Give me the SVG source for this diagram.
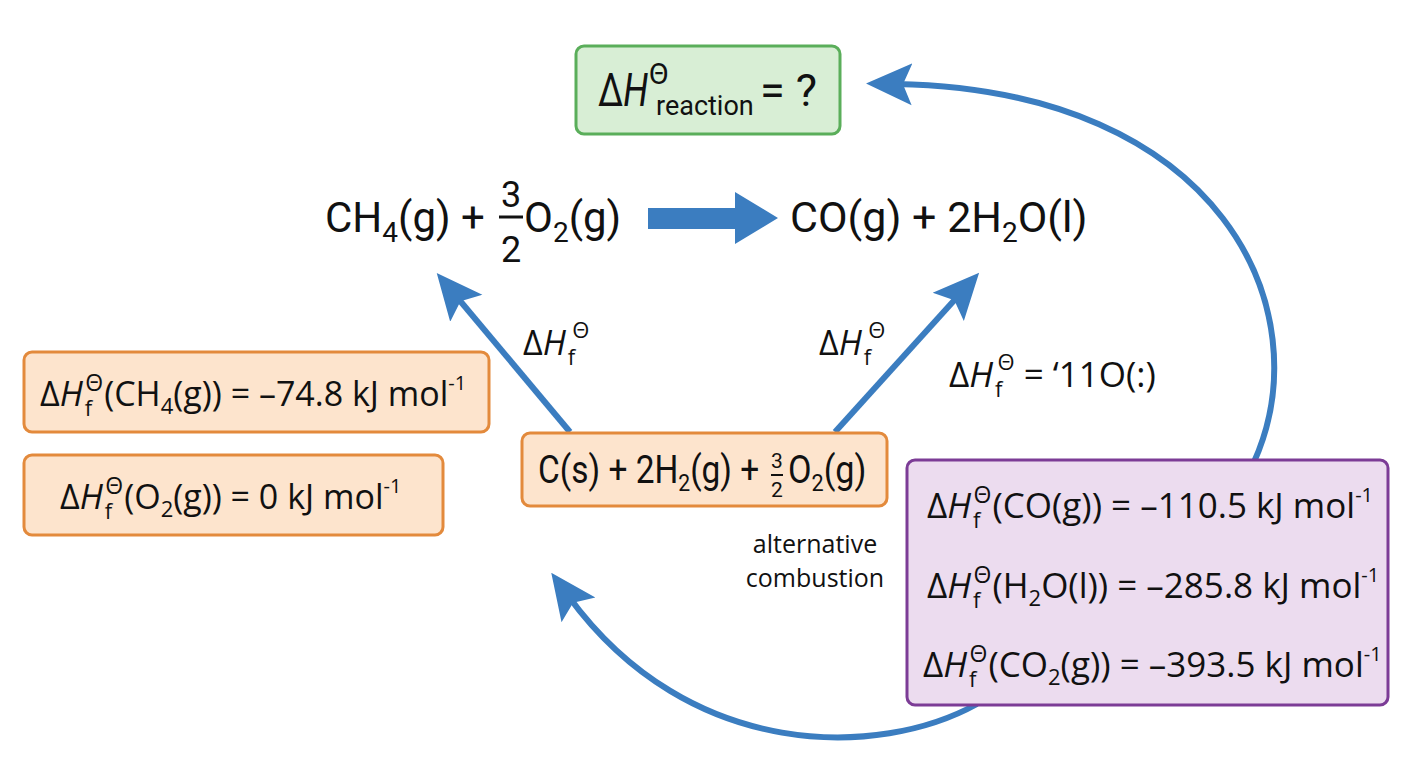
<svg xmlns="http://www.w3.org/2000/svg" width="1408" height="768" viewBox="0 0 1408 768">
<defs>
<style>
.eq{font-family:Roboto,"Liberation Sans",sans-serif;fill:#111;}
.os{font-family:"Open Sans","Liberation Sans",sans-serif;fill:#111;}
.it{font-style:italic;}
.orange{fill:#fde4cd;stroke:#e38a3c;stroke-width:3;}
.purple{fill:#ecdcef;stroke:#7c3c96;stroke-width:3;}
.green{fill:#d8eed5;stroke:#5aae5a;stroke-width:3;}
.conn{fill:none;stroke:#3b7dc0;stroke-width:6;}
</style>
<marker id="ah" markerUnits="userSpaceOnUse" viewBox="0 0 46 46" refX="16" refY="23" markerWidth="46" markerHeight="46" orient="auto">
<path d="M0,2 L46,23 L0,44 L9,23 Z" fill="#3b7dc0"/>
</marker>
</defs>
<rect width="1408" height="768" fill="#ffffff"/>

<g id="connectors">
<polygon points="648,208 735,208 735,192 778,218 735,244 735,229 648,229" fill="#3b7dc0"/>
<path class="conn" d="M570,432 L456,296" marker-end="url(#ah)"/>
<path class="conn" d="M835,432 L959,295" marker-end="url(#ah)"/>
<path class="conn" d="M1254,462 C1322,310 1222,90 896,84" marker-end="url(#ah)"/>
<path class="conn" d="M977,704 C880,758 690,762 569,597" marker-end="url(#ah)"/>
</g>

<g id="reaction-enthalpy">
<rect class="green" x="576" y="46" width="264" height="88" rx="8"/>
<text class="eq" font-size="46" transform="translate(598,106) scale(0.78,1)">Δ<tspan class="it">H</tspan></text>
<text class="eq" font-size="29" x="649" y="84">Θ</text>
<text class="eq" font-size="27" x="656" y="115">reaction</text>
<text class="eq" font-size="45" x="760" y="106">= ?</text>
</g>

<g id="reactants">
<text class="eq" font-size="42" x="325" y="232">CH<tspan font-size="28" dy="10">4</tspan><tspan dy="-10">(g) +</tspan></text>
<text class="eq" font-size="36" text-anchor="middle"><tspan x="511" y="207">3</tspan><tspan x="511" y="262">2</tspan></text>
<line x1="499" y1="217" x2="523" y2="217" stroke="#111" stroke-width="3"/>
<text class="eq" font-size="42" x="524" y="232">O<tspan font-size="28" dy="10">2</tspan><tspan dy="-10">(g)</tspan></text>
</g>

<g id="products">
<text class="eq" font-size="43" x="790" y="232">CO(g) + 2H<tspan font-size="28" dy="10">2</tspan><tspan dy="-10">O(l)</tspan></text>
</g>

<g id="elements">
<rect class="orange" x="522" y="433" width="365" height="73" rx="8"/>
<text class="eq" font-size="38" transform="translate(538,483) scale(0.88,1)">C(s) + 2H<tspan font-size="24" dy="8">2</tspan><tspan dy="-8">(g) +</tspan></text>
<text class="eq" font-size="21" text-anchor="middle"><tspan x="777" y="468">3</tspan><tspan x="777" y="497">2</tspan></text>
<line x1="771" y1="475" x2="783" y2="475" stroke="#111" stroke-width="2"/>
<text class="eq" font-size="38" transform="translate(788,483) scale(0.9,1)">O<tspan font-size="24" dy="8">2</tspan><tspan dy="-8">(g)</tspan></text>
</g>

<g id="label-left">
<text class="os" font-size="34" x="523" y="355">Δ<tspan class="it">H</tspan><tspan font-size="22" dx="2" dy="10">f</tspan><tspan font-size="22" dx="-3" dy="-27">Θ</tspan></text>
</g>

<g id="label-right">
<text class="os" font-size="34" x="819" y="355">Δ<tspan class="it">H</tspan><tspan font-size="22" dx="2" dy="10">f</tspan><tspan font-size="22" dx="-3" dy="-27">Θ</tspan></text>
</g>

<g id="label-co">
<text class="os" font-size="35" x="949" y="387">Δ<tspan class="it">H</tspan><tspan font-size="22" dx="2" dy="10">f</tspan><tspan font-size="22" dx="-5" dy="-27">Θ</tspan><tspan dy="17"> = ‘11O(:)</tspan></text>
</g>

<g id="label-alt">
<text class="os" font-size="25" text-anchor="middle" x="815" y="553">alternative</text>
<text class="os" font-size="25" text-anchor="middle" x="815" y="587">combustion</text>
</g>

<g id="ch4-formation">
<rect class="orange" x="24" y="352" width="465" height="80" rx="8"/>
<text class="os" font-size="34" x="40" y="406">Δ<tspan class="it">H</tspan><tspan font-size="22" dx="2" dy="10">f</tspan><tspan font-size="23" dx="-7" dy="-25">Θ</tspan><tspan dx="1" dy="15">(CH</tspan><tspan font-size="22" dy="8">4</tspan><tspan dy="-8">(g)) = –74.8 kJ mol</tspan><tspan font-size="20" dy="-16">-1</tspan></text>
</g>

<g id="o2-formation">
<rect class="orange" x="24" y="455" width="419" height="80" rx="8"/>
<text class="os" font-size="34" x="60" y="509">Δ<tspan class="it">H</tspan><tspan font-size="22" dx="2" dy="10">f</tspan><tspan font-size="23" dx="-7" dy="-25">Θ</tspan><tspan dx="1" dy="15">(O</tspan><tspan font-size="22" dy="8">2</tspan><tspan dy="-8">(g)) = 0 kJ mol</tspan><tspan font-size="20" dy="-16">-1</tspan></text>
</g>

<g id="product-data">
<rect class="purple" x="907" y="460" width="481" height="245" rx="8"/>
<text class="os" font-size="35" x="927" y="518">Δ<tspan class="it">H</tspan><tspan font-size="22" dx="2" dy="10">f</tspan><tspan font-size="23" dx="-7" dy="-25">Θ</tspan><tspan dx="1" dy="15">(CO(g)) = –110.5 kJ mol</tspan><tspan font-size="20" dy="-16">-1</tspan></text>
<text class="os" font-size="35" x="927" y="598">Δ<tspan class="it">H</tspan><tspan font-size="22" dx="2" dy="10">f</tspan><tspan font-size="23" dx="-7" dy="-25">Θ</tspan><tspan dx="1" dy="15">(H</tspan><tspan font-size="22" dy="8">2</tspan><tspan dy="-8">O(l)) = –285.8 kJ mol</tspan><tspan font-size="20" dy="-16">-1</tspan></text>
<text class="os" font-size="35" x="923" y="677">Δ<tspan class="it">H</tspan><tspan font-size="22" dx="2" dy="10">f</tspan><tspan font-size="23" dx="-7" dy="-25">Θ</tspan><tspan dx="1" dy="15">(CO</tspan><tspan font-size="22" dy="8">2</tspan><tspan dy="-8">(g)) = –393.5 kJ mol</tspan><tspan font-size="20" dy="-16">-1</tspan></text>
</g>
</svg>
